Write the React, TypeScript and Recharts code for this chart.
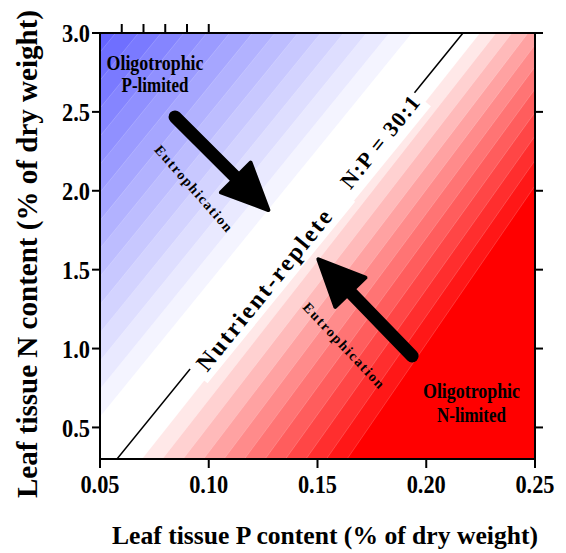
import React from 'react';
import { ComposedChart, Area, XAxis, YAxis, ReferenceLine, ReferenceDot } from 'recharts';

// axes
const xDomain = [0.05, 0.25];
const yDomain = [0.3, 3.0];
const xTicks = [0.05, 0.1, 0.15, 0.2, 0.25];
const yTicks = [0.5, 1.0, 1.5, 2.0, 2.5, 3.0];

// contour boundaries of the red (N-limited) side: P where each contour crosses N=0.3 and N=3.0
const redBottomP = [0.0693, 0.0787, 0.0882, 0.0976, 0.107, 0.1164, 0.1259, 0.1353, 0.1447, 0.1541, 0.1636];
const redTopP = [0.2247, 0.2321, 0.2394, 0.2468, 0.2541, 0.2615, 0.2688, 0.2762, 0.2836, 0.2909, 0.2983];
const redColors = ['#ffe8e8', '#ffd1d1', '#ffbaba', '#ffa2a2', '#ff8b8b', '#ff7474', '#ff5d5d', '#ff4646', '#ff2e2e', '#ff1717', '#ff0000'];

// contour boundaries of the blue (P-limited) side
const blueBottomP = [0.0342, 0.0238, 0.0133, 0.0028, -0.0077, -0.0182, -0.0287, -0.0391, -0.0496, -0.0601, -0.0706, -0.0811, -0.0915, -0.102];
const blueTopP = [0.1934, 0.183, 0.1725, 0.162, 0.1515, 0.141, 0.1305, 0.1201, 0.1096, 0.0991, 0.0886, 0.0781, 0.0677, 0.0572];
const blueColors = ['#f4f4ff', '#e9e9ff', '#dedeff', '#d3d3ff', '#c8c8ff', '#bdbdff', '#b2b2ff', '#a6a6ff', '#9b9bff', '#9090ff', '#8585ff', '#7a7aff', '#6f6fff', '#6464ff'];

// N:P = 30:1 line
const ratioLine = [{ x: 0.0578, y: 0.3 }, { x: 0.2169, y: 3.0 }];
// eutrophication arrows (tail, tip)
const arrowUpper = [{ x: 0.0845, y: 2.468 }, { x: 0.1274, y: 1.878 }];
const arrowLower = [{ x: 0.1935, y: 0.953 }, { x: 0.1504, y: 1.566 }];

const nAt = (bot: number, top: number, p: number) =>
  yDomain[0] + ((p - bot) * (yDomain[1] - yDomain[0])) / (top - bot);

const rows = xDomain.map((p) => {
  const row: any = { p };
  redBottomP.forEach((b, i) => {
    row['r' + i] = [-5, nAt(b, redTopP[i], p)];
  });
  blueBottomP.forEach((b, i) => {
    row['b' + i] = [nAt(b, blueTopP[i], p), 10];
  });
  return row;
});

const FONT = "'Liberation Serif', 'Times New Roman', serif";
const axisLine = { stroke: '#000', strokeWidth: 2 };

// width of a numeric label in em for a Times-like font
const numEm = (s: string) => s.split('').reduce((a, c) => a + (c === '.' ? 0.25 : 0.5), 0);

const makeTick = (orient: 'left' | 'bottom', digits: number) => (props: any) => {
  const { x, y, payload } = props;
  const s = Number(payload.value).toFixed(digits);
  const fs = 26;
  const len = numEm(s) * fs * 0.86;
  return (
    <text
      x={x}
      y={y}
      dy={orient === 'left' ? '0.35em' : '0.71em'}
      textAnchor={orient === 'left' ? 'end' : 'middle'}
      fontSize={fs}
      fontWeight={700}
      fontFamily={FONT}
      fill="#000"
      textLength={len}
      lengthAdjust="spacingAndGlyphs"
    >
      {s}
    </text>
  );
};

const plainText = (lines: { dy: number; text: string; len: number }[], fontSize: number) => (props: any) => {
  const { cx, cy } = props;
  return (
    <g>
      {lines.map((l, i) => (
        <text
          key={i}
          x={cx}
          y={cy + l.dy}
          textAnchor="middle"
          fontSize={fontSize}
          fontWeight={700}
          fontFamily={FONT}
          fill="#000"
          textLength={l.len}
          lengthAdjust="spacingAndGlyphs"
        >
          {l.text}
        </text>
      ))}
    </g>
  );
};

const rotatedText = (
  text: string,
  angle: number,
  fontSize: number,
  len: number,
  box?: { x0: number; x1: number; y0: number; y1: number }
) => (props: any) => {
  const { cx, cy } = props;
  return (
    <g transform={`translate(${cx},${cy}) rotate(${angle})`}>
      {box && <rect x={box.x0} y={box.y0} width={box.x1 - box.x0} height={box.y1 - box.y0} fill="#fff" />}
      <text
        x={0}
        y={0}
        textAnchor="middle"
        dominantBaseline="central"
        fontSize={fontSize}
        fontWeight={700}
        fontFamily={FONT}
        fill="#000"
        textLength={len}
        lengthAdjust="spacing"
      >
        {text}
      </text>
    </g>
  );
};

const arrowShape = (props: any) => {
  const { x1, y1, x2, y2 } = props;
  const dx = x2 - x1;
  const dy = y2 - y1;
  const d = Math.sqrt(dx * dx + dy * dy) || 1;
  const ux = dx / d;
  const uy = dy / d;
  const nx = -uy;
  const ny = ux;
  const L = 46;
  const W = 21;
  const bx = x2 - ux * L;
  const by = y2 - uy * L;
  const pts = `${x2},${y2} ${bx + nx * W},${by + ny * W} ${bx - nx * W},${by - ny * W}`;
  return (
    <g>
      <line x1={x1} y1={y1} x2={bx + ux * 8} y2={by + uy * 8} stroke="#000" strokeWidth={13} strokeLinecap="round" />
      <polygon points={pts} fill="#000" stroke="#000" strokeWidth={4} strokeLinejoin="round" />
    </g>
  );
};

export default function App() {
  return (
    <ComposedChart width={558} height={545} data={rows} margin={{ top: 15, right: 21, bottom: 44, left: 32 }}>
      {blueBottomP.map((_, i) => (
        <Area
          key={'b' + i}
          dataKey={'b' + i}
          type="linear"
          fill={blueColors[i]}
          fillOpacity={1}
          stroke="rgba(255,255,255,0.3)"
          strokeWidth={0.6}
          dot={false}
          activeDot={false}
          isAnimationActive={false}
        />
      ))}
      {redBottomP.map((_, i) => (
        <Area
          key={'r' + i}
          dataKey={'r' + i}
          type="linear"
          fill={redColors[i]}
          fillOpacity={1}
          stroke="rgba(255,255,255,0.3)"
          strokeWidth={0.6}
          dot={false}
          activeDot={false}
          isAnimationActive={false}
        />
      ))}
      <XAxis
        type="number"
        dataKey="p"
        domain={xDomain}
        allowDataOverflow
        ticks={xTicks}
        interval={0}
        tickSize={9}
        tickMargin={7}
        height={50}
        axisLine={axisLine}
        tickLine={axisLine}
        tick={makeTick('bottom', 2)}
        label={{
          content: (p: any) => {
            const vb = p.viewBox || { x: 92, y: 451, width: 435, height: 50 };
            return (
              <text
                x={vb.x + vb.width / 2 + 7.5}
                y={vb.y + 85}
                textAnchor="middle"
                fontSize={26}
                fontWeight={700}
                fontFamily={FONT}
                fill="#000"
                textLength={426}
                lengthAdjust="spacingAndGlyphs"
              >
                Leaf tissue P content (% of dry weight)
              </text>
            );
          },
        }}
      />
      <XAxis
        xAxisId="top"
        orientation="top"
        type="number"
        domain={xDomain}
        allowDataOverflow
        ticks={xTicks}
        interval={0}
        tickFormatter={() => ''}
        tickSize={9}
        height={10}
        axisLine={axisLine}
        tickLine={axisLine}
      />
      <YAxis
        type="number"
        domain={yDomain}
        allowDataOverflow
        ticks={yTicks}
        interval={0}
        tickSize={8}
        tickMargin={2}
        width={60}
        axisLine={axisLine}
        tickLine={axisLine}
        tick={makeTick('left', 1)}
        label={{
          content: (p: any) => {
            const vb = p.viewBox || { x: 32, y: 25, width: 60, height: 426 };
            const cx = vb.x - 3;
            const cy = vb.y + vb.height / 2 + 8;
            return (
              <text
                transform={`translate(${cx},${cy}) rotate(-90)`}
                x={0}
                y={0}
                textAnchor="middle"
                fontSize={29}
                fontWeight={700}
                fontFamily={FONT}
                fill="#000"
                textLength={488}
                lengthAdjust="spacingAndGlyphs"
              >
                Leaf tissue N content (% of dry weight)
              </text>
            );
          },
        }}
      />
      <YAxis
        yAxisId="right"
        orientation="right"
        type="number"
        domain={yDomain}
        allowDataOverflow
        ticks={yTicks}
        interval={0}
        tickFormatter={() => ''}
        tickSize={8}
        width={10}
        axisLine={axisLine}
        tickLine={axisLine}
      />
      <ReferenceLine segment={ratioLine} stroke="#000" strokeWidth={1.5} />
      <ReferenceDot
        x={0.1254}
        y={1.3711}
        r={1}
        shape={rotatedText('Nutrient-replete', -50.9, 24, 200, { x0: -108, x1: 126, y0: -15, y1: 15 })}
      />
      <ReferenceDot
        x={0.1787}
        y={2.3092}
        r={1}
        shape={rotatedText('N:P = 30:1', -50.9, 22, 112, { x0: -70, x1: 60, y0: -16, y1: 17 })}
      />
      <ReferenceDot x={0.093} y={2.0144} r={1} shape={rotatedText('Eutrophication', 48.7, 14, 110)} />
      <ReferenceDot x={0.162} y={1.0194} r={1} shape={rotatedText('Eutrophication', 46.8, 14, 112)} />
      <ReferenceDot
        x={0.0753}
        y={2.7655}
        r={1}
        shape={plainText(
          [
            { dy: 0, text: 'Oligotrophic', len: 97 },
            { dy: 22, text: 'P-limited', len: 67 },
          ],
          21
        )}
      />
      <ReferenceDot
        x={0.2208}
        y={0.6866}
        r={1}
        shape={plainText(
          [
            { dy: 0, text: 'Oligotrophic', len: 97 },
            { dy: 23.7, text: 'N-limited', len: 69 },
          ],
          21
        )}
      />
      <ReferenceLine segment={arrowUpper} shape={arrowShape} />
      <ReferenceLine segment={arrowLower} shape={arrowShape} />
    </ComposedChart>
  );
}
